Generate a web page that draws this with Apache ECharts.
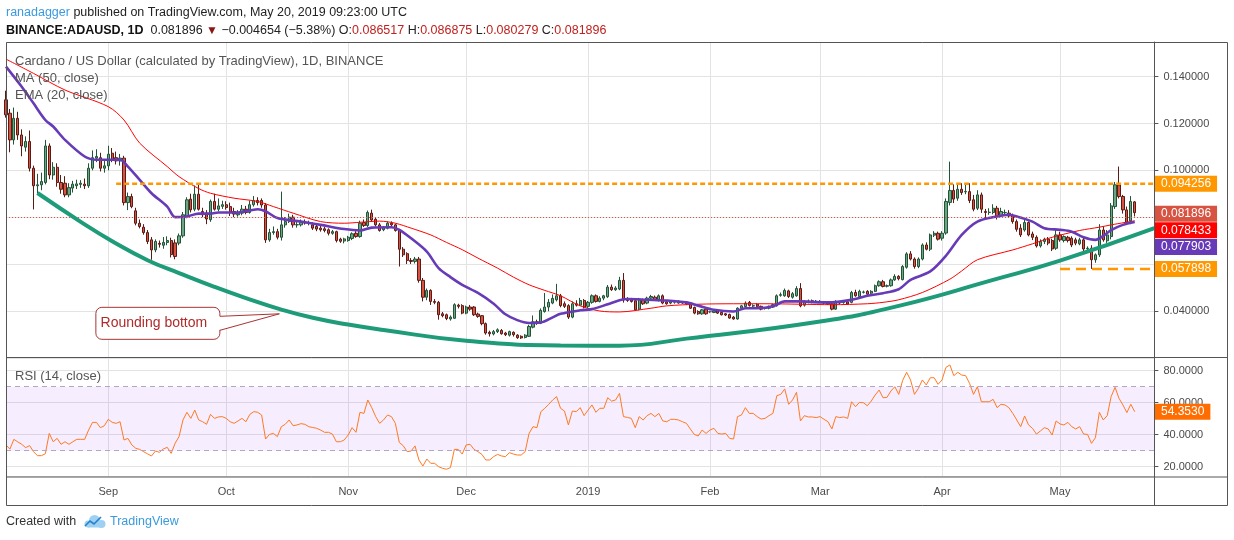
<!DOCTYPE html>
<html>
<head>
<meta charset="UTF-8">
<title>Cardano / US Dollar - rounding bottom</title>
<script src="https://cdn.jsdelivr.net/npm/echarts/dist/echarts.min.js"></script>
<style type="text/css">
   html, body{
      margin:0;
      padding:0;
      background-color:#ffffff;
   }
   #container{
      width:1234px;
      height:540px;
   }
</style>
</head>
<body>
<div id="container"></div>
<script type="text/javascript">
// daily candles, Aug 6 2018 .. May 20 2019 (axis runs on to May 25)
var startDay = Date.UTC(2018, 7, 6);
var dayCount = 293;
var monthTicks = ['2018-09-01','2018-10-01','2018-11-01','2018-12-01','2019-01-01','2019-02-01','2019-03-01','2019-04-01','2019-05-01'];
var monthNames = ['Sep','Oct','Nov','Dec','2019','Feb','Mar','Apr','May'];

var opens = [
 .1301,.1244,.1130,.1222,.1151,.1099,.1123,.1009,.0934,.0938,
 .0948,.1104,.0980,.1013,.0948,.0945,.0895,.0924,.0934,.0940,.0941,
 .0934,.1009,.1052,.1054,.1009,.1019,.1073,.1054,.1040,.1052,
 .0862,.0888,.0827,.0774,.0757,.0734,.0703,.0660,.0688,.0680,
 .0692,.0700,.0690,.0689,.0720,.0803,.0877,.0834,.0898,.0824,
 .0817,.0789,.0867,.0834,.0846,.0853,.0845,.0824,.0810,.0817,
 .0834,.0820,.0853,.0871,.0871,.0852,.0703,.0734,.0738,.0714,
 .0767,.0781,.0800,.0767,.0767,.0778,.0776,.0767,.0760,.0753,
 .0750,.0746,.0731,.0738,.0706,.0698,.0700,.0709,.0731,.0717,
 .0777,.0764,.0817,.0791,.0767,.0746,.0753,.0774,.0767,.0746,
 .0663,.0644,.0615,.0611,.0621,.0530,.0458,.0487,.0440,.0436,
 .0387,.0383,.0365,.0368,.0424,.0422,.0390,.0416,.0416,.0386,
 .0379,.0345,.0308,.0301,.0311,.0316,.0305,.0296,.0308,.0296,
 .0291,.0286,.0291,.0330,.0353,.0347,.0397,.0416,.0433,.0447,
 .0464,.0430,.0422,.0373,.0430,.0424,.0444,.0419,.0436,.0464,
 .0440,.0454,.0460,.0501,.0490,.0493,.0530,.0450,.0447,.0443,
 .0407,.0447,.0433,.0454,.0458,.0444,.0464,.0438,.0433,.0437,
 .0433,.0438,.0436,.0429,.0414,.0397,.0387,.0407,.0396,.0393,
 .0399,.0393,.0387,.0384,.0373,.0365,.0411,.0418,.0436,.0420,
 .0428,.0419,.0410,.0411,.0416,.0421,.0466,.0464,.0485,.0458,
 .0464,.0495,.0424,.0440,.0443,.0439,.0440,.0438,.0436,.0430,
 .0407,.0438,.0435,.0438,.0436,.0478,.0461,.0479,.0483,.0475,
 .0483,.0507,.0524,.0505,.0507,.0532,.0547,.0533,.0586,.0643,
 .0621,.0589,.0621,.0681,.0663,.0723,.0731,.0710,.0732,.0863,
 .0914,.0881,.0919,.0908,.0909,.0874,.0838,.0895,.0824,.0820,
 .0820,.0838,.0805,.0819,.0817,.0808,.0781,.0753,.0745,.0777,
 .0728,.0714,.0677,.0696,.0706,.0700,.0667,.0724,.0700,.0714,
 .0710,.0703,.0686,.0703,.0665,.0667,.0618,.0639,.0745,.0699,
 .0717,.0845,.0938,.0888,.0831,.0784,.086517
];
var highs = [
 .1340,.1262,.1268,.1250,.1175,.1145,.1170,.1020,.0985,.0990,
 .1130,.1115,.1035,.1030,.0980,.0975,.0945,.0955,.0960,.0958,.0965,
 .1030,.1085,.1090,.1075,.1040,.1105,.1095,.1080,.1070,.1062,
 .0905,.0900,.0840,.0790,.0770,.0745,.0715,.0705,.0700,.0715,
 .0718,.0712,.0705,.0730,.0822,.0885,.0900,.0935,.0945,.0840,
 .0830,.0875,.0900,.0880,.0870,.0868,.0862,.0840,.0830,.0852,
 .0848,.0870,.0890,.0885,.0880,.0860,.0750,.0760,.0750,.0909,
 .0800,.0815,.0810,.0780,.0790,.0790,.0785,.0778,.0770,.0762,
 .0758,.0752,.0745,.0742,.0712,.0712,.0720,.0735,.0740,.0785,
 .0790,.0828,.0832,.0800,.0775,.0762,.0782,.0782,.0772,.0750,
 .0672,.0650,.0625,.0630,.0630,.0540,.0495,.0492,.0450,.0442,
 .0395,.0388,.0380,.0432,.0430,.0428,.0422,.0425,.0420,.0392,
 .0382,.0350,.0315,.0318,.0325,.0322,.0310,.0315,.0312,.0300,
 .0295,.0300,.0340,.0380,.0362,.0410,.0476,.0450,.0470,.0515,
 .0472,.0440,.0428,.0440,.0445,.0455,.0450,.0442,.0470,.0470,
 .0462,.0468,.0510,.0512,.0505,.0545,.0561,.0458,.0455,.0450,
 .0455,.0452,.0460,.0468,.0465,.0470,.0470,.0442,.0442,.0442,
 .0445,.0442,.0440,.0432,.0418,.0402,.0408,.0410,.0400,.0402,
 .0403,.0395,.0390,.0388,.0378,.0415,.0425,.0440,.0442,.0428,
 .0432,.0422,.0416,.0422,.0430,.0470,.0478,.0495,.0490,.0480,
 .0505,.0518,.0445,.0448,.0448,.0446,.0446,.0442,.0440,.0434,
 .0445,.0442,.0440,.0442,.0485,.0490,.0490,.0486,.0488,.0488,
 .0512,.0530,.0532,.0512,.0538,.0556,.0552,.0595,.0650,.0655,
 .0628,.0628,.0688,.0692,.0730,.0740,.0738,.0740,.0880,.1037,
 .0940,.0942,.0945,.0942,.0945,.0895,.0915,.0905,.0835,.0838,
 .0855,.0848,.0840,.0832,.0830,.0815,.0790,.0770,.0795,.0782,
 .0738,.0722,.0705,.0712,.0715,.0708,.0745,.0738,.0722,.0720,
 .0718,.0712,.0712,.0712,.0675,.0680,.0645,.0770,.0760,.0745,
 .0860,.0950,.1016,.0895,.0845,.0890,.086875
];
var lows = [
 .1225,.1077,.1110,.1130,.1060,.1080,.0995,.0833,.0900,.0915,
 .0940,.0962,.0960,.0930,.0900,.0885,.0885,.0905,.0920,.0925,.0920,
 .0925,.1000,.1035,.0995,.0990,.1000,.1035,.1025,.1020,.0850,
 .0830,.0838,.0765,.0752,.0725,.0685,.0618,.0650,.0670,.0665,
 .0680,.0628,.0620,.0680,.0712,.0795,.0820,.0825,.0828,.0800,
 .0770,.0780,.0828,.0825,.0835,.0832,.0805,.0800,.0802,.0808,
 .0812,.0815,.0845,.0850,.0840,.0690,.0695,.0725,.0705,.0700,
 .0755,.0775,.0755,.0755,.0760,.0768,.0765,.0745,.0740,.0738,
 .0735,.0722,.0725,.0692,.0690,.0688,.0695,.0702,.0712,.0712,
 .0758,.0758,.0780,.0760,.0738,.0740,.0748,.0762,.0738,.0589,
 .0630,.0600,.0600,.0602,.0520,.0440,.0445,.0425,.0428,.0362,
 .0372,.0360,.0358,.0365,.0410,.0385,.0385,.0400,.0378,.0370,
 .0338,.0298,.0290,.0295,.0305,.0298,.0292,.0290,.0290,.0280,
 .0280,.0282,.0288,.0325,.0340,.0343,.0392,.0398,.0428,.0440,
 .0415,.0412,.0365,.0368,.0418,.0420,.0410,.0412,.0430,.0435,
 .0436,.0445,.0455,.0485,.0485,.0488,.0435,.0438,.0435,.0400,
 .0402,.0425,.0428,.0448,.0442,.0440,.0428,.0426,.0428,.0430,
 .0430,.0430,.0425,.0408,.0385,.0383,.0383,.0383,.0390,.0390,
 .0386,.0380,.0378,.0366,.0362,.0362,.0405,.0412,.0418,.0416,
 .0415,.0402,.0405,.0406,.0412,.0418,.0460,.0460,.0455,.0452,
 .0460,.0415,.0418,.0432,.0432,.0434,.0434,.0428,.0425,.0402,
 .0404,.0428,.0430,.0425,.0432,.0460,.0458,.0474,.0466,.0470,
 .0480,.0503,.0500,.0500,.0503,.0528,.0530,.0530,.0580,.0615,
 .0580,.0582,.0615,.0658,.0655,.0715,.0700,.0700,.0725,.0850,
 .0860,.0870,.0895,.0898,.0860,.0825,.0830,.0818,.0790,.0810,
 .0812,.0790,.0800,.0810,.0800,.0772,.0738,.0715,.0738,.0718,
 .0702,.0670,.0670,.0685,.0680,.0655,.0660,.0695,.0692,.0692,
 .0672,.0680,.0680,.0655,.0655,.0579,.0605,.0630,.0695,.0690,
 .0705,.0835,.0880,.0815,.0770,.0770,.080279
];
var closes = [
 .1237,.1130,.1222,.1151,.1104,.1123,.1009,.0934,.0938,.0952,
 .1104,.0980,.1013,.0948,.0919,.0895,.0926,.0941,.0942,.0945,.0934,
 .1009,.1054,.1059,.1009,.1019,.1069,.1045,.1040,.1052,.0862,
 .0888,.0845,.0774,.0760,.0734,.0696,.0660,.0696,.0684,.0692,
 .0700,.0640,.0632,.0720,.0810,.0874,.0831,.0898,.0834,.0810,
 .0792,.0867,.0834,.0848,.0853,.0841,.0820,.0813,.0817,.0834,
 .0820,.0853,.0871,.0862,.0852,.0703,.0734,.0738,.0714,.0767,
 .0781,.0800,.0767,.0768,.0778,.0775,.0777,.0753,.0749,.0746,
 .0743,.0731,.0738,.0700,.0697,.0707,.0714,.0729,.0717,.0774,
 .0764,.0820,.0788,.0767,.0743,.0756,.0774,.0767,.0743,.0663,
 .0639,.0615,.0611,.0621,.0530,.0458,.0487,.0440,.0436,.0383,
 .0379,.0367,.0373,.0426,.0419,.0390,.0416,.0407,.0383,.0376,
 .0345,.0305,.0302,.0311,.0319,.0302,.0298,.0311,.0298,.0285,
 .0284,.0296,.0333,.0353,.0347,.0402,.0416,.0436,.0453,.0464,
 .0422,.0419,.0373,.0430,.0424,.0444,.0416,.0436,.0464,.0440,
 .0454,.0464,.0501,.0490,.0497,.0530,.0447,.0444,.0440,.0404,
 .0450,.0430,.0454,.0461,.0447,.0464,.0433,.0430,.0438,.0437,
 .0440,.0433,.0429,.0411,.0390,.0387,.0404,.0387,.0396,.0399,
 .0390,.0383,.0382,.0369,.0365,.0411,.0421,.0433,.0423,.0422,
 .0419,.0407,.0412,.0419,.0426,.0464,.0469,.0487,.0461,.0473,
 .0495,.0421,.0440,.0441,.0436,.0441,.0440,.0433,.0429,.0407,
 .0440,.0433,.0436,.0429,.0478,.0464,.0483,.0480,.0471,.0483,
 .0507,.0524,.0504,.0507,.0532,.0547,.0537,.0589,.0643,.0621,
 .0589,.0621,.0681,.0663,.0724,.0731,.0706,.0731,.0867,.0914,
 .0877,.0919,.0905,.0910,.0871,.0834,.0895,.0834,.0820,.0821,
 .0838,.0803,.0824,.0820,.0805,.0781,.0748,.0724,.0777,.0724,
 .0714,.0677,.0696,.0706,.0689,.0664,.0724,.0703,.0717,.0700,
 .0681,.0689,.0703,.0664,.0667,.0618,.0639,.0745,.0703,.0724,
 .0848,.0938,.0888,.0831,.0778,.0867,.081896
];

// RSI (14, close), one value per candle
var rsiValues = [
 33.6,31.0,37.1,35.5,34.0,31.9,33.2,29.4,26.9,26.9,28.1,
 40.8,35.6,37.7,34.0,35.6,34.0,35.6,37.1,37.1,37.1,
 42.9,47.7,47.7,44.4,45.6,49.6,47.7,47.1,48.1,36.7,
 37.7,33.6,31.5,30.8,29.4,28.0,26.7,29.8,29.0,31.1,
 32.1,28.3,34.6,38.8,49.2,54.0,50.2,55.4,49.2,48.1,
 46.5,52.7,50.2,51.1,51.3,50.2,48.1,47.1,48.6,50.2,
 48.1,52.7,54.4,54.0,52.3,37.3,40.2,40.8,38.8,45.0,
 46.5,49.2,45.6,46.1,46.9,46.5,45.0,44.5,44.0,42.9,
 41.5,41.5,40.4,35.6,35.6,36.7,39.8,44.4,41.5,54.0,
 53.3,61.7,56.9,51.3,47.1,49.2,52.3,51.3,47.1,35.2,
 33.1,29.4,29.8,33.0,24.2,20.4,24.8,22.1,22.1,20.0,
 19.0,18.4,19.4,30.8,30.8,27.9,33.6,34.0,30.8,29.4,
 27.7,24.2,24.2,26.3,27.7,26.7,26.3,28.8,27.9,27.3,
 27.3,29.4,40.8,45.0,44.4,54.4,56.5,59.0,61.7,63.8,
 56.5,54.8,46.1,54.8,54.4,56.9,51.9,55.4,58.6,54.0,
 56.5,56.5,63.1,61.0,61.7,65.8,51.3,50.8,50.2,44.4,
 51.3,49.2,51.9,53.3,51.3,53.3,48.6,48.1,49.6,49.6,
 49.2,48.1,47.1,43.6,40.2,39.2,42.9,40.8,42.9,44.0,
 40.8,40.4,40.8,37.7,37.3,51.3,52.3,56.9,53.3,53.3,
 51.3,49.8,50.2,51.9,53.3,64.4,65.2,68.6,59.0,61.7,
 66.5,48.6,51.9,51.1,51.1,50.7,51.3,49.6,48.1,43.6,
 51.3,50.7,51.1,50.2,60.6,57.5,60.2,60.0,58.1,61.0,
 64.8,67.9,63.1,63.3,67.3,70.0,65.2,74.0,79.0,74.2,
 65.2,69.0,74.2,71.1,75.6,75.6,71.5,74.2,82.1,83.6,
 76.9,79.0,77.3,76.9,72.1,65.2,70.0,60.6,60.6,60.6,
 62.1,56.9,59.0,58.6,56.9,53.3,49.2,45.0,51.7,46.1,
 44.0,40.4,42.3,44.4,43.6,39.8,48.6,46.7,46.1,47.7,
 45.0,43.6,45.0,40.4,40.2,34.6,38.1,54.0,49.2,51.9,
 63.8,69.6,62.7,58.6,53.8,59.0,54.353
];

// [candle index, value]
var ma50Points = [
 [0,.1475],[7,.1414],[15,.1343],[26,.1272],[30,.1215],[34,.1116],[41,.1016],[44,.0973],[49,.0922],[52,.0902],
 [58,.0881],[64,.0867],[68,.0845],[73,.0817],[80,.0781],[86,.0774],[90,.0778],[95,.0783],[99,.0774],[103,.0753],
 [108,.0724],[112,.0692],[116,.0661],[120,.0625],[125,.0582],[129,.0544],[133,.0511],[137,.0487],[141,.0464],[146,.0421],
 [151,.0399],[156,.0395],[164,.0411],[168,.0421],[176,.0428],[185,.0430],[193,.0430],[202,.0428],[210,.0426],[219,.0430],
 [223,.0436],[227,.0447],[233,.0478],[240,.0535],[243,.0570],[247,.0618],[256,.0660],[261,.0686],[266,.0714],[273,.0743],
 [278,.0757],[281,.0767],[287,.078433]
];
var ema20Points = [
 [0,.1443],[4,.1357],[7,.1286],[10,.1215],[12,.1187],[15,.1130],[20,.1059],[23,.1045],[29,.1045],[31,.1016],
 [34,.0959],[37,.0902],[41,.0845],[43,.0800],[46,.0803],[49,.0815],[52,.0815],[54,.0820],[59,.0820],[64,.0834],
 [66,.0825],[69,.0796],[75,.0781],[80,.0767],[86,.0749],[90,.0743],[93,.0755],[98,.0757],[100,.0746],[103,.0710],
 [107,.0653],[110,.0582],[113,.0544],[116,.0511],[120,.0476],[124,.0430],[127,.0385],[130,.0360],[133,.0348],[136,.0350],
 [139,.0372],[141,.0387],[146,.0402],[149,.0407],[153,.0428],[156,.0445],[158,.0450],[163,.0447],[168,.0444],[173,.0436],
 [176,.0422],[180,.0404],[185,.0397],[188,.0411],[191,.0411],[195,.0419],[198,.0440],[202,.0440],[207,.0436],[210,.0436],
 [215,.0447],[219,.0464],[223,.0475],[227,.0492],[230,.0532],[235,.0568],[239,.0635],[243,.0724],[247,.0781],[252,.0803],
 [255,.0810],[257,.0803],[261,.0781],[264,.0753],[268,.0746],[271,.0738],[274,.0714],[277,.0703],[279,.0720],[281,.0745],
 [284,.0767],[287,.077903]
];
// hand drawn rounding bottom arc
var roundingBottom = [
 [8,.0903],[19,.0780],[27,.0697],[36,.0616],[44,.0561],[53,.0502],[61,.0454],[70,.0405],[78,.0370],[87,.0341],
 [96,.0318],[117,.0272],[141,.0252],[156,.0251],[173,.0281],[207,.0354],[227,.0421],[251,.0532],[268,.0614],
 [292,.0753]
];
var resistance = 0.094256, resistanceFrom = 28;
var support = 0.057898, supportFrom = 268;

var days = [];
for (var k = 0; k < dayCount; k++) {
   days.push(new Date(startDay + k * 86400000).toISOString().slice(0, 10));
}
var candles = opens.map(function (o, i) { return [o, closes[i], lows[i], highs[i]]; });
var lastClose = closes[closes.length - 1];
var maLast = ma50Points[ma50Points.length - 1][1];
var emaLast = ema20Points[ema20Points.length - 1][1];
var rsiLast = rsiValues[rsiValues.length - 1];

var FONT = '"Liberation Sans", Arial, sans-serif';
var AXIS_TXT = '#4a4a4a';
var GRIDC = '#e3e3e3';

function isMonth(idx, val) { return monthTicks.indexOf(val) >= 0; }

var dom = document.getElementById('container');
var myChart = echarts.init(dom);

var option = {
   animation: false,
   backgroundColor: '#ffffff',
   grid: [
      { left: 6, top: 42, width: 1148.4, height: 315.6 },
      { left: 6, top: 358.3, width: 1148.4, height: 118.4 }
   ],
   xAxis: [
      {
         type: 'category', gridIndex: 0, data: days, boundaryGap: false,
         axisLine: { show: false }, axisTick: { show: false }, axisLabel: { show: false },
         splitLine: { show: true, interval: isMonth, lineStyle: { color: GRIDC, width: 1 } }
      },
      {
         type: 'category', gridIndex: 1, data: days, boundaryGap: false,
         axisLine: { show: false }, axisTick: { show: false },
         axisLabel: {
            show: true, interval: isMonth, margin: 10, color: AXIS_TXT, fontFamily: FONT, fontSize: 11,
            formatter: function (v) { return monthNames[monthTicks.indexOf(v)]; }
         },
         splitLine: { show: true, interval: isMonth, lineStyle: { color: GRIDC, width: 1 } }
      }
   ],
   yAxis: [
      {
         type: 'value', gridIndex: 0, position: 'right', min: 0.02, max: 0.15481, interval: 0.02,
         axisLine: { show: true, lineStyle: { color: '#555' } },
         axisTick: { show: true, length: 4, lineStyle: { color: '#555' } },
         axisLabel: {
            margin: 9, color: AXIS_TXT, fontFamily: FONT, fontSize: 11, showMinLabel: false, showMaxLabel: false,
            // 0.06 and 0.08 sit under the price tags
            formatter: function (v) { return (v > 0.09 && v < 0.15) || (v > 0.03 && v < 0.05) ? v.toFixed(6) : ''; }
         },
         splitLine: { show: true, lineStyle: { color: GRIDC, width: 1 } }
      },
      {
         type: 'value', gridIndex: 1, position: 'right', min: 13.75, max: 87.75, splitNumber: 4,
         axisLine: { show: true, lineStyle: { color: '#555' } },
         axisTick: { show: true, length: 4, lineStyle: { color: '#555' } },
         axisLabel: {
            margin: 9, color: AXIS_TXT, fontFamily: FONT, fontSize: 11, showMinLabel: false, showMaxLabel: false,
            formatter: function (v) { return Math.abs(v / 20 - Math.round(v / 20)) < 1e-6 ? v.toFixed(4) : ''; }
         },
         splitLine: { show: true, lineStyle: { color: GRIDC, width: 1 } }
      }
   ],
   series: [
      {
         name: 'ADAUSD', type: 'candlestick', xAxisIndex: 0, yAxisIndex: 0,
         data: candles, barWidth: '70%', z: 3,
         itemStyle: {
            color: '#6ba583', color0: '#d75442',
            borderColor: '#225437', borderColor0: '#5b1a13', borderColorDoji: '#555', borderWidth: 1
         },
         markLine: {
            silent: true, symbol: ['none', 'none'], label: { show: false },
            lineStyle: { color: '#d75442', type: [1, 2], width: 1 },
            data: [{ yAxis: lastClose }]
         }
      },
      {
         name: 'MA (50, close)', type: 'line', xAxisIndex: 0, yAxisIndex: 0,
         data: ma50Points, symbol: 'none', smooth: 0.3, z: 4,
         lineStyle: { color: '#ff0000', width: 1 }
      },
      {
         name: 'EMA (20, close)', type: 'line', xAxisIndex: 0, yAxisIndex: 0,
         data: ema20Points, symbol: 'none', smooth: 0.3, z: 4,
         lineStyle: { color: '#673ab7', width: 2.6 }
      },
      {
         name: 'Rounding bottom', type: 'line', xAxisIndex: 0, yAxisIndex: 0,
         data: roundingBottom, symbol: 'none', smooth: 0.5, z: 5,
         lineStyle: { color: '#1e9b78', width: 4 }
      },
      {
         name: 'Resistance', type: 'line', xAxisIndex: 0, yAxisIndex: 0,
         data: [[resistanceFrom, resistance], [dayCount - 1, resistance]], symbol: 'none', z: 5,
         lineStyle: { color: '#ff9800', width: 2.5, type: [5, 3] }
      },
      {
         name: 'Support', type: 'line', xAxisIndex: 0, yAxisIndex: 0,
         data: [[supportFrom, support], [dayCount - 1, support]], symbol: 'none', z: 5,
         lineStyle: { color: '#ff9800', width: 2.5, type: [10, 6] }
      },
      {
         name: 'RSI (14, close)', type: 'line', xAxisIndex: 1, yAxisIndex: 1,
         data: rsiValues, symbol: 'none', z: 4,
         lineStyle: { color: '#ff7a22', width: 1 },
         markArea: {
            silent: true, itemStyle: { color: 'rgba(153, 51, 255, 0.09)' },
            data: [[{ yAxis: 30 }, { yAxis: 70 }]]
         },
         markLine: {
            silent: true, symbol: ['none', 'none'], label: { show: false },
            lineStyle: { color: '#b2a6c4', type: [5, 4], width: 1 },
            data: [{ yAxis: 70 }, { yAxis: 30 }]
         }
      }
   ]
};
myChart.setOption(option);

// price tags on the scale; the three close ones are stacked like TradingView does
function tagAt(grid, value, text, bg, shift) {
   var py = myChart.convertToPixel({ gridIndex: grid }, [0, value])[1] + (shift || 0);
   return {
      type: 'text', z: 70, silent: true, x: 1155, y: py,
      style: {
         text: text, fill: '#ffffff', font: '12px ' + FONT, verticalAlign: 'middle',
         backgroundColor: bg, padding: [2, 6, 1, 6], lineHeight: 13
      }
   };
}

var tip = myChart.convertToPixel({ gridIndex: 0 }, [69, 0.0387]);
var tx = tip[0] + 2, ty = tip[1];
var bx = tx - 183.5, by = ty - 6.5, bw = 124, bh = 32;
var graphics = [
   { type: 'rect', z: 50, silent: true, shape: { x: 6.5, y: 42.5, width: 1221, height: 463 }, style: { fill: 'none', stroke: '#555', lineWidth: 1 } },
   { type: 'line', z: 50, silent: true, shape: { x1: 6.5, y1: 357.5, x2: 1227.5, y2: 357.5 }, style: { stroke: '#555', lineWidth: 1 } },
   { type: 'line', z: 50, silent: true, shape: { x1: 6.5, y1: 477, x2: 1227.5, y2: 477 }, style: { stroke: '#555', lineWidth: 1 } },
   { type: 'line', z: 50, silent: true, shape: { x1: 1154.5, y1: 42.5, x2: 1154.5, y2: 505.5 }, style: { stroke: '#555', lineWidth: 1 } },

   tagAt(0, resistance, resistance.toFixed(6), '#ff9800'),
   tagAt(0, lastClose, lastClose.toFixed(6), '#d75442', 1),
   tagAt(0, maLast, maLast.toFixed(6), '#ff0000', 9.5),
   tagAt(0, emaLast, emaLast.toFixed(6), '#673ab7', 25),
   tagAt(0, support, support.toFixed(6), '#ff9800'),
   tagAt(1, rsiLast, rsiLast.toFixed(4), '#ff6d00'),

   { type: 'text', z: 60, x: 6, y: 13, style: {
      text: '{u|ranadagger} published on TradingView.com, May 20, 2019 09:23:00 UTC',
      fill: '#222', font: '12.5px ' + FONT, verticalAlign: 'middle',
      rich: { u: { fill: '#3a9ae0', font: '12.5px ' + FONT } } } },
   { type: 'text', z: 60, x: 6, y: 31, style: {
      text: '{b|BINANCE:ADAUSD, 1D}  0.081896 {d|\u25BC} \u22120.004654 (\u22125.38%) O:{r|0.086517} H:{r|0.086875} L:{r|0.080279} C:{r|0.081896}',
      fill: '#222', font: '12.5px ' + FONT, verticalAlign: 'middle',
      rich: {
         b: { fill: '#111', font: 'bold 12.5px ' + FONT },
         d: { fill: '#8b1414', font: '12px ' + FONT },
         r: { fill: '#c0221f', font: '12.5px ' + FONT }
      } } },

   { type: 'text', z: 60, x: 15, y: 61, style: { text: 'Cardano / US Dollar (calculated by TradingView), 1D, BINANCE', fill: '#555', font: '13px ' + FONT, verticalAlign: 'middle' } },
   { type: 'text', z: 60, x: 15, y: 78, style: { text: 'MA (50, close)', fill: '#555', font: '13px ' + FONT, verticalAlign: 'middle' } },
   { type: 'text', z: 60, x: 15, y: 95, style: { text: 'EMA (20, close)', fill: '#555', font: '13px ' + FONT, verticalAlign: 'middle' } },
   { type: 'text', z: 60, x: 15, y: 376, style: { text: 'RSI (14, close)', fill: '#555', font: '13px ' + FONT, verticalAlign: 'middle' } },

   // callout box with its tail pointing at the arc
   { type: 'rect', z: 55, silent: true, shape: { x: bx, y: by, width: bw, height: bh, r: 6 },
     style: { fill: '#ffffff', stroke: '#a83434', lineWidth: 1 } },
   { type: 'polygon', z: 56, silent: true, shape: { points: [[bx + bw - 1.5, ty + 2.5], [tx, ty], [bx + bw - 1.5, ty + 16.5]] },
     style: { fill: '#ffffff', stroke: null } },
   { type: 'polyline', z: 57, silent: true, shape: { points: [[bx + bw, ty + 2.5], [tx, ty], [bx + bw, ty + 16.5]] },
     style: { fill: null, stroke: '#a83434', lineWidth: 1 } },
   { type: 'text', z: 58, x: bx + bw / 2 - 4, y: by + bh / 2, style: { text: 'Rounding bottom', fill: '#b02a2a', font: '14px ' + FONT, align: 'center', verticalAlign: 'middle' } },

   // footer
   { type: 'text', z: 60, x: 6, y: 522, style: { text: 'Created with', fill: '#333', font: '12.5px ' + FONT, verticalAlign: 'middle' } },
   { type: 'circle', z: 60, silent: true, shape: { cx: 88, cy: 524, r: 3.5 }, style: { fill: '#9fd0f2' } },
   { type: 'circle', z: 60, silent: true, shape: { cx: 94.5, cy: 520.5, r: 5.5 }, style: { fill: '#9fd0f2' } },
   { type: 'circle', z: 60, silent: true, shape: { cx: 101.5, cy: 524, r: 4 }, style: { fill: '#9fd0f2' } },
   { type: 'rect', z: 60, silent: true, shape: { x: 88, y: 523, width: 14, height: 4.5 }, style: { fill: '#9fd0f2' } },
   { type: 'polyline', z: 61, silent: true, shape: { points: [[85, 526], [90, 521], [94, 524], [101, 517]] },
     style: { stroke: '#1f83d2', lineWidth: 1.6, fill: null } },
   { type: 'text', z: 60, x: 110, y: 522, style: { text: 'TradingView', fill: '#3a9ae0', font: '12.5px ' + FONT, verticalAlign: 'middle' } }
];
myChart.setOption({ graphic: graphics });
</script>
</body>
</html>
